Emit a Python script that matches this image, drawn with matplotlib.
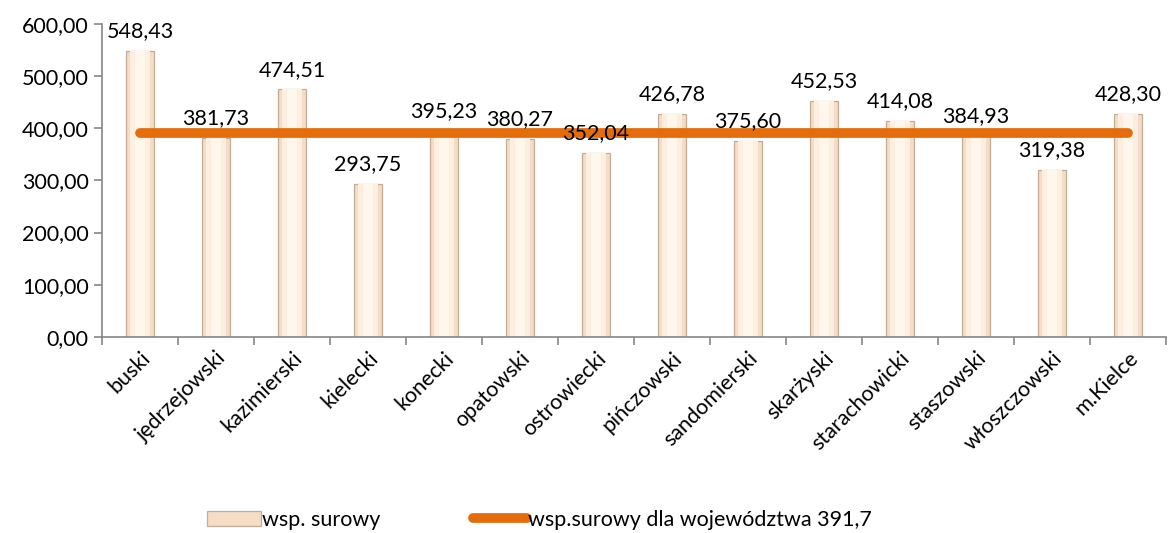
import matplotlib.pyplot as plt
import numpy as np
from matplotlib.ticker import FuncFormatter, FixedLocator

powiaty = ['buski', 'jędrzejowski', 'kazimierski', 'kielecki', 'konecki', 'opatowski',
           'ostrowiecki', 'pińczowski', 'sandomierski', 'skarżyski', 'starachowicki',
           'staszowski', 'włoszczowski', 'm.Kielce']
wsp_surowy = [548.43, 381.73, 474.51, 293.75, 395.23, 380.27, 352.04, 426.78,
              375.60, 452.53, 414.08, 384.93, 319.38, 428.30]
wsp_woj = 391.7

plt.rcParams['font.family'] = ['Lato', 'DejaVu Sans']
fs = 15.5

fig = plt.figure(figsize=(11.7, 5.33), dpi=100)
ax = fig.add_axes([0.0872, 0.368, 0.9094, 0.587])

x = np.arange(len(powiaty))
bars = ax.bar(x, wsp_surowy, width=0.38, color='#F5DCC4', edgecolor='#C2AC96',
              linewidth=0.9, label='wsp. surowy', zorder=2)
# jaśniejszy środek słupka (imitacja fazowania)
ax.bar(x, wsp_surowy, width=0.26, color='#FDEEDF', linewidth=0, zorder=2)
ax.bar(x, wsp_surowy, width=0.14, color='#FFF6EC', linewidth=0, zorder=2)

line, = ax.plot(x, [wsp_woj] * len(x), color='#E46C0A', linewidth=7,
                solid_capstyle='round', label='wsp.surowy dla województwa 391,7', zorder=3)

for xi, v in zip(x, wsp_surowy):
    ax.annotate(f'{v:.2f}'.replace('.', ','), (xi, v), xytext=(0, 7),
                textcoords='offset points', ha='center', va='bottom', fontsize=fs,
                zorder=4)

ax.set_xlim(-0.5, len(powiaty) - 0.5)
ax.set_ylim(0, 600)
ax.set_yticks(np.arange(0, 601, 100))
ax.yaxis.set_major_formatter(FuncFormatter(lambda v, p: f'{v:.2f}'.replace('.', ',')))
ax.set_xticks(x)
ax.set_xticklabels(powiaty, rotation=45, ha='right', rotation_mode='anchor', fontsize=fs)
ax.tick_params(axis='x', length=0, pad=8)
ax.xaxis.set_minor_locator(FixedLocator(np.arange(-0.5, len(powiaty), 1)))
ax.tick_params(axis='x', which='minor', length=6, color='#868686', width=1.2)
ax.tick_params(axis='y', length=6, color='#868686', width=1.2, labelsize=fs)

for s in ['top', 'right']:
    ax.spines[s].set_visible(False)
for s in ['left', 'bottom']:
    ax.spines[s].set_color('#868686')
    ax.spines[s].set_linewidth(1.2)

fig.legend(handles=[bars, line], loc='center', bbox_to_anchor=(0.461, 0.025),
           ncol=2, frameon=False, fontsize=fs, columnspacing=4.3, handlelength=2.5,
           handletextpad=0.05)

fig.savefig('out.png', dpi=100)
